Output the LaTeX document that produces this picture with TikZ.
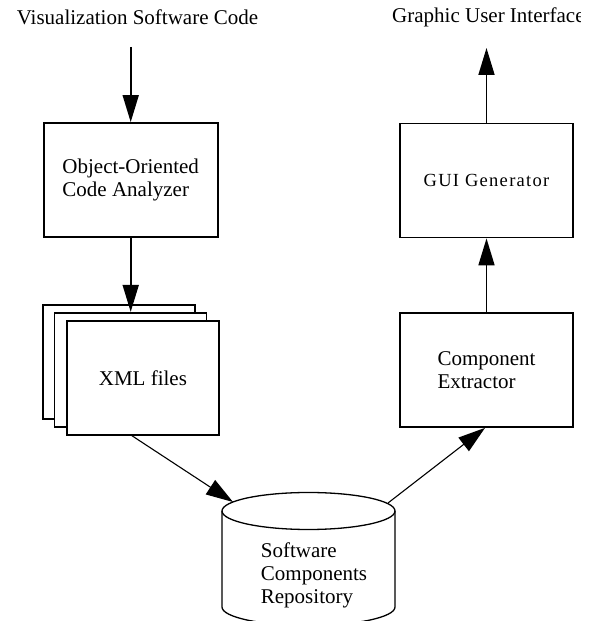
\documentclass[tikz,border=0pt]{standalone}
\usepackage{fontspec}
\setmainfont{Liberation Serif}
\usetikzlibrary{arrows.meta}
\begin{document}
\begin{tikzpicture}[x=1pt,y=1pt,
  every node/.style={font=\fontsize{21}{23}\selectfont},
  procbox/.style={draw, line width=1.8pt, minimum width=174pt, minimum height=114pt, inner sep=0pt, align=left},
  filebox/.style={draw, line width=1.8pt, fill=white, minimum width=152pt, minimum height=114pt, inner sep=0pt},
  bigarrow/.style={line width=1.7pt, -{Triangle[length=27pt,width=16pt]}},
  diagarrow/.style={line width=1.1pt, -{Triangle[length=27pt,width=17pt]}},
  cyl/.style={line width=1.3pt}
]
\useasboundingbox (0,0) rectangle (590,621);

% titles
\node (src) at (137.5,604) {Visualization Software Code};
\begin{scope}
  \clip (0,0) rectangle (580,621);
  \node[anchor=west, inner sep=0pt] (gui) at (392,604) {Graphic User Interface};
\end{scope}

% left column
\coordinate (srcArrow) at (130.7,574);
\node[procbox] (ooca) at (130.7,441) {Object-Oriented\\Code Analyzer};
\node[filebox] (xml3) at (118.9,259.2) {};
\node[filebox] (xml2) at (130.4,251.2) {};
\node[filebox] (xml) at (142.9,243.2) {XML files};

% right column
\node[procbox, minimum width=173pt] (gen) at (486.5,440.5)
  {\fontsize{18.5}{22}\selectfont\addfontfeatures{LetterSpace=7}GUI Generator};
\node[procbox, minimum width=173pt] (ce) at (486.5,251) {Component\\Extractor};
\coordinate (guiArrow) at (486.5,573);

% repository cylinder
\draw[cyl] (222,110) -- (222,14) arc[start angle=180, end angle=360, x radius=86.5, y radius=18.5] -- (395,110);
\draw[cyl] (308.5,110) ellipse [x radius=86.5, y radius=18.5];
\node[align=left, inner sep=0pt] (repo) at (314,46) {Software\\Components\\Repository};
\coordinate (repoIn) at (233,119);
\coordinate (repoOut) at (388,118);

% connectors
\draw[bigarrow] (srcArrow) -- (ooca.north);
\draw[bigarrow] (ooca.south) -- (xml2.north -| ooca.south);
\draw[diagarrow] ([xshift=-11pt]xml.south) -- (repoIn);
\draw[diagarrow] (repoOut) -- ([xshift=-1.5pt]ce.south);
\draw[bigarrow] (ce.north) -- (gen.south);
\draw[bigarrow] (gen.north) -- (guiArrow);
\end{tikzpicture}
\end{document}
